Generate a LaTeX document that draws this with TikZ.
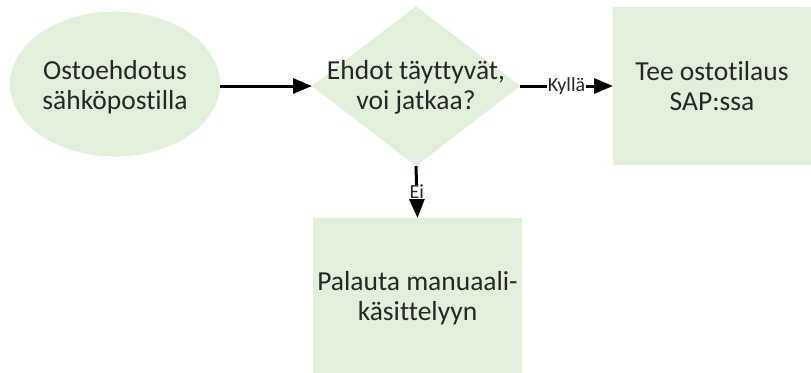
\documentclass[tikz,border=0pt]{standalone}
\usepackage{fontspec}
\setmainfont{Carlito}[Ligatures=NoCommon]
\usetikzlibrary{shapes.geometric,arrows.meta}
\definecolor{boxgreen}{HTML}{E2EFDA}
\definecolor{txt}{HTML}{262626}
\begin{document}
\begin{tikzpicture}[x=1bp,y=-1bp,
  shapefill/.style={fill=boxgreen,draw=none,inner sep=0pt,outer sep=0pt},
  maintext/.style={font=\fontsize{27.5bp}{30bp}\selectfont,text=txt,align=center},
  smalltext/.style={font=\fontsize{20bp}{22bp}\selectfont,text=txt,fill=white,inner sep=0.5bp},
  flow/.style={line width=3bp,-{Triangle[length=19bp,width=15bp]}},
]
\clip (0,0) rectangle (811,372);
\node[ellipse,shapefill,minimum width=210bp,minimum height=145bp] (start) at (115,84) {};
\node[maintext] (starttext) at (115,87) {Ostoehdotus\\sähköpostilla};
\node[diamond,shapefill,minimum width=208bp,minimum height=160bp] (dec) at (416,86) {};
\node[maintext] (dectext) at (416,87) {Ehdot täyttyvät,\\voi jatkaa?};
\node[rectangle,shapefill,minimum width=198bp,minimum height=158bp,maintext] (sap) at (712,86) {Tee ostotilaus\\SAP:ssa};
\node[rectangle,shapefill,minimum width=209bp,minimum height=160bp,maintext] (manual) at (417.5,298) {Palauta manuaali-\\käsittelyyn};
\draw[flow] (start.east |- dec.west) -- (dec.west);
\draw[flow] (dec.east) -- node[smalltext] (yes) {Kyllä} (sap.west);
\draw[flow] (dec.south) -- node[smalltext] (no) {Ei} (manual.north);
\end{tikzpicture}
\end{document}
